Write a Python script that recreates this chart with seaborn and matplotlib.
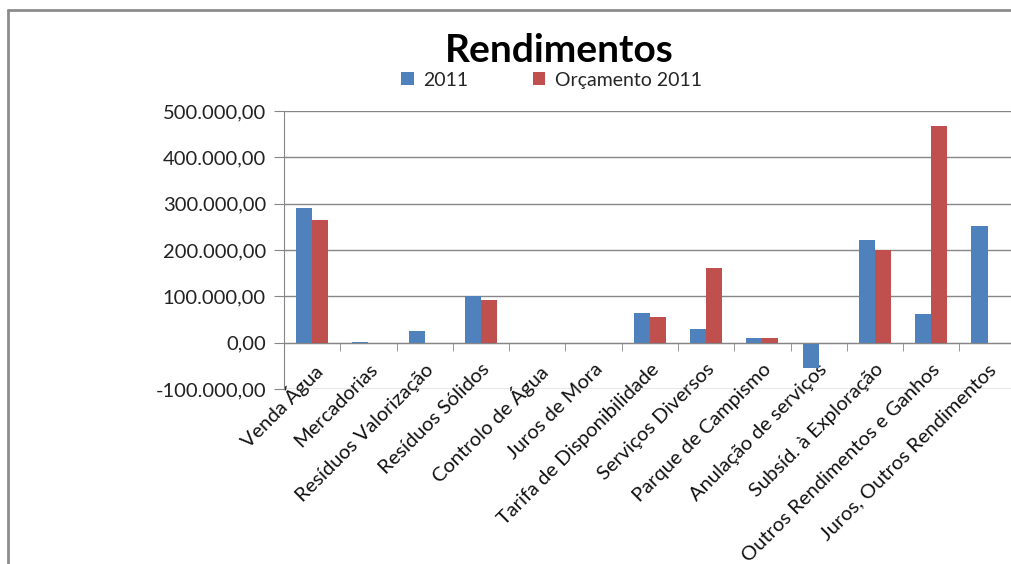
import pandas as pd
import numpy as np
import matplotlib.pyplot as plt
import seaborn as sns
from matplotlib.lines import Line2D
from matplotlib.ticker import FuncFormatter, FixedLocator

# DATA
categories = ['Venda Água', 'Mercadorias', 'Resíduos Valorização', 'Resíduos Sólidos',
              'Controlo de Água', 'Juros de Mora', 'Tarifa de Disponibilidade',
              'Serviços Diversos', 'Parque de Campismo', 'Anulação de serviços',
              'Subsíd. à Exploração', 'Outros Rendimentos e Ganhos', 'Juros, Outros Rendimentos']
real_2011 = [291000, 2000, 26000, 101000, 0, 0, 65000, 30000, 11000, -55000, 222000, 62000, 252000]
orcamento_2011 = [265000, 0, 0, 93000, 0, 0, 56000, 162000, 11000, 0, 200000, 468000, 0]
series_names = ['2011', 'Orçamento 2011']
y_ticks = [-100000, 0, 100000, 200000, 300000, 400000, 500000]

df = pd.DataFrame({
    'Categoria': categories * 2,
    'Valor': real_2011 + orcamento_2011,
    'Serie': [series_names[0]] * len(categories) + [series_names[1]] * len(categories),
})

sns.set_style('white')
plt.rcParams['font.family'] = ['Lato', 'DejaVu Sans']

fig = plt.figure(figsize=(10.12, 5.64), dpi=100)
ax = fig.add_axes([0.2806, 0.3103, 0.7230, 0.4929])

sns.barplot(data=df, x='Categoria', y='Valor', hue='Serie', order=categories,
            hue_order=series_names, palette=['#4F81BD', '#C0504D'], saturation=1,
            width=0.57, edgecolor='none', errorbar=None, ax=ax)

grid_col = '#868686'
ax.set_ylim(-100000, 500000)
ax.set_xlim(-0.5, len(categories) - 0.5)
ax.yaxis.set_major_locator(FixedLocator(y_ticks))
ax.yaxis.set_major_formatter(FuncFormatter(
    lambda v, p: f"{v:,.2f}".replace(',', 'X').replace('.', ',').replace('X', '.')))
ax.grid(axis='y', color=grid_col, lw=1)
ax.set_axisbelow(True)

for s in ['top', 'right']:
    ax.spines[s].set_visible(False)
ax.spines['left'].set_color(grid_col)
ax.spines['bottom'].set_color(grid_col)
ax.spines['bottom'].set_position(('data', 0))

ax.tick_params(axis='y', direction='out', length=7, color=grid_col, labelsize=14.5,
               labelcolor='#222222', pad=6, left=True)
ax.set_xticks(np.arange(-0.5, len(categories), 1.0), minor=True)
ax.tick_params(axis='x', which='minor', direction='out', length=6, color=grid_col, bottom=True)
ax.tick_params(axis='x', which='major', length=0, pad=13, labelsize=14.5, labelcolor='#111111')
ax.set_xticks(range(len(categories)))
ax.set_xticklabels(categories, rotation=45, ha='right', va='top', rotation_mode='anchor')
ax.set_xlabel('')
ax.set_ylabel('')

handles, labels = ax.get_legend_handles_labels()
ax.get_legend().remove()
fig.legend(handles, labels, loc='center', bbox_to_anchor=(0.545, 0.858), ncol=2,
           frameon=False, fontsize=14, handlelength=0.65, handleheight=0.65,
           handletextpad=0.5, columnspacing=3.3)

fig.text(0.553, 0.911, 'Rendimentos', ha='center', va='center', fontsize=28,
         fontweight='bold', color='black')

# chart border
fig.add_artist(Line2D([0.0079, 1.0], [0.9823, 0.9823], color='#8c8c8c', lw=2))
fig.add_artist(Line2D([0.0079, 0.0079], [0.0, 0.9823], color='#8c8c8c', lw=2))

plt.savefig('out.png', dpi=100)
